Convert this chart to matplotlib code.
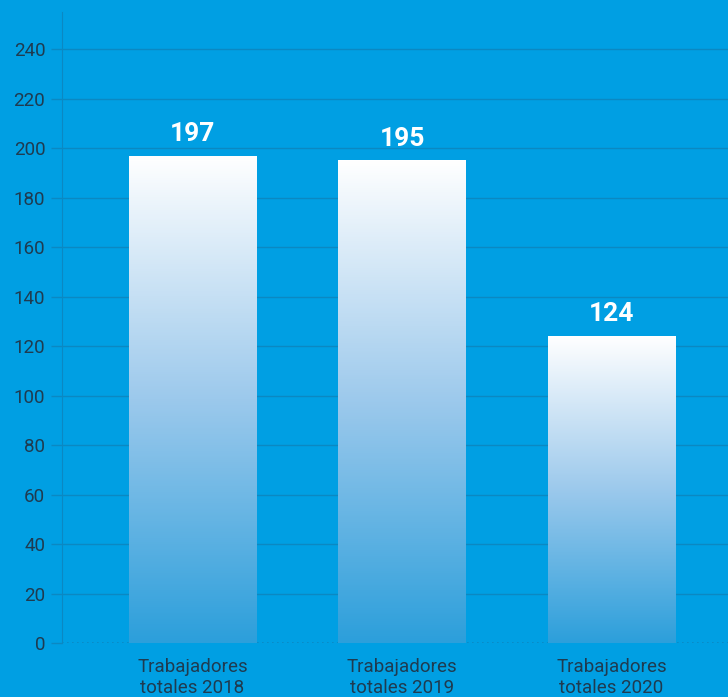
import matplotlib
matplotlib.use("Agg")
import matplotlib.pyplot as plt
import numpy as np
from matplotlib.colors import LinearSegmentedColormap

categories = ["Trabajadores\ntotales 2018", "Trabajadores\ntotales 2019", "Trabajadores\ntotales 2020"]
values = [197, 195, 124]
yticks = list(range(0, 241, 20))

bg = "#009fe3"
grid_col = "#0b88c2"
text_col = "#1f3b50"

plt.rcParams["font.family"] = ["Roboto", "DejaVu Sans"]

fig = plt.figure(figsize=(7.28, 6.97), dpi=100, facecolor=bg)
ax = fig.add_axes([62 / 728, 1 - 643 / 697, 666 / 728, 631 / 697])
ax.set_facecolor(bg)

x = np.arange(len(values))
width = 0.61
ax.set_xlim(-0.623, 2.556)
ax.set_ylim(0, 255)

grad = LinearSegmentedColormap.from_list("bar", ["#2c9fdb", "#9cc9ec", "#ffffff"])
bars = ax.bar(x, values, width=width, color="none", zorder=3)
for b, v in zip(bars, values):
    img = ax.imshow(np.linspace(0, 1, 256).reshape(-1, 1), cmap=grad, origin="lower",
                    aspect="auto", extent=[b.get_x(), b.get_x() + width, 0, v], zorder=3)
    img.set_clip_path(b)
    ax.text(b.get_x() + width / 2, v + 4, str(v), ha="center", va="bottom",
            color="white", fontsize=19, fontweight="bold", zorder=4)

ax.set_yticks(yticks)
ax.yaxis.grid(True, color=grid_col, linewidth=1, zorder=0)
ax.set_axisbelow(True)
ax.axhline(0, color=grid_col, linestyle=(0, (1, 2)), linewidth=1.2, zorder=2)
# hide the solid gridline at zero
ax.get_ygridlines()[0].set_visible(False)

ax.set_xticks(x)
ax.set_xticklabels(categories, color=text_col, fontsize=13.5, linespacing=1.2)
ax.tick_params(axis="x", length=0, pad=11)
ax.tick_params(axis="y", colors=grid_col, labelcolor=text_col, labelsize=13.5, length=8, width=1, pad=4)

for side in ["top", "right", "bottom"]:
    ax.spines[side].set_visible(False)
ax.spines["left"].set_color(grid_col)

fig.savefig("out.png", dpi=100, facecolor=bg)
